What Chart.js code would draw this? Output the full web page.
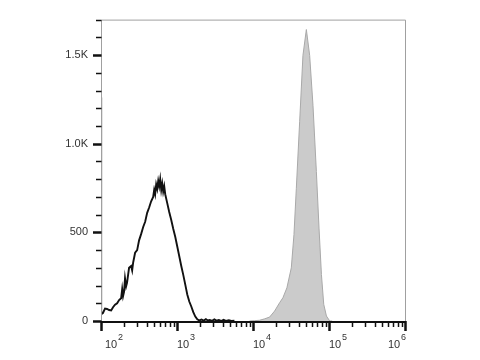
<!DOCTYPE html>
<html>
<head>
<meta charset="utf-8">
<script src="https://cdn.jsdelivr.net/npm/chart.js@4.4.1/dist/chart.umd.min.js"></script>
<style>
  html, body { margin: 0; padding: 0; background: #fff; }
  #wrap { width: 480px; height: 360px; }
</style>
</head>
<body>
<div id="wrap"><canvas id="chart" width="480" height="360"></canvas></div>
<script>
// unstained control (black outline), fluorescence channel values and counts
const ctrlX = [100, 100.5, 106, 113, 120, 128, 136, 144, 153, 163, 173, 184, 190, 195, 201, 207, 214, 220,
  234, 249, 257, 265, 281, 299, 317, 337, 359, 381, 405, 430, 457, 486, 501, 516, 532, 549, 566, 583,
  601, 620, 639, 658, 679, 700, 744, 790, 840, 892, 948, 1008, 1071, 1138, 1209, 1285, 1365, 1451,
  1542, 1638, 1741, 1850, 1966, 2100, 2250, 2400, 2550, 2700, 2900, 3100, 3300, 3550, 3800, 4100,
  4400, 4800, 5200, 5700];
const ctrlY = [1260, 38, 45, 70, 68, 62, 60, 78, 92, 100, 118, 128, 180, 140, 165, 240, 195, 215,
  300, 310, 285, 330, 385, 400, 455, 490, 530, 560, 610, 640, 675, 700, 740, 715, 770, 745, 790, 760,
  800, 740, 775, 730, 760, 715, 665, 615, 570, 520, 475, 420, 365, 310, 260, 205, 150, 110,
  82, 50, 25, 10, 3, 8, 2, 10, 3, 6, 1, 9, 2, 5, 0, 7,
  1, 4, 0, 2];

// stained sample (grey filled)
const stainX = [9000, 10500, 12190, 14190, 16520, 19230, 22390, 24740, 27930, 31920, 34590, 37170,
  41090, 45420, 50350, 55670, 61550, 68210, 73910, 79500, 85290, 92530, 102300, 110000];
const stainY = [0, 2, 4, 12, 22, 56, 103, 131, 187, 300, 487, 749,
  1124, 1498, 1644, 1498, 1217, 843, 524, 262, 94, 28, 0, 0];

const xTicks = [1e2, 1e3, 1e4, 1e5, 1e6];
const xTickExps = ['2', '3', '4', '5', '6'];
const xLabelShift = [13, 9, 9, 9, -8];
const yTicks = [0, 500, 1000, 1500];
const yTickLabels = ['0', '500', '1.0K', '1.5K'];

const FONT = '"Liberation Sans", Arial, sans-serif';

const axesPlugin = {
  id: 'flowAxes',
  afterDatasetsDraw(chart) {
    const { ctx, chartArea: a, scales } = chart;
    const xs = scales.x, ys = scales.y;
    ctx.save();

    // thin grey frame on top / right / left
    ctx.strokeStyle = '#a0a0a0';
    ctx.lineWidth = 1;
    ctx.beginPath();
    ctx.moveTo(a.left + 0.5, a.bottom);
    ctx.lineTo(a.left + 0.5, a.top + 0.5);
    ctx.lineTo(a.right + 0.5, a.top + 0.5);
    ctx.lineTo(a.right + 0.5, a.bottom);
    ctx.stroke();

    // bottom axis
    ctx.strokeStyle = '#111';
    ctx.lineWidth = 2;
    ctx.beginPath();
    ctx.moveTo(a.left, a.bottom + 1);
    ctx.lineTo(a.right + 1, a.bottom + 1);
    ctx.stroke();

    // x ticks: decades and minor 2..9
    for (let d = 2; d <= 6; d++) {
      const px = Math.round(xs.getPixelForValue(Math.pow(10, d))) + 0.5;
      ctx.lineWidth = 2.5;
      ctx.beginPath();
      ctx.moveTo(px, a.bottom);
      ctx.lineTo(px, a.bottom + 10);
      ctx.stroke();
      if (d === 6) break;
      ctx.lineWidth = 1.5;
      for (let m = 2; m <= 9; m++) {
        const mx = Math.round(xs.getPixelForValue(m * Math.pow(10, d))) + 0.5;
        ctx.beginPath();
        ctx.moveTo(mx, a.bottom);
        ctx.lineTo(mx, a.bottom + 6);
        ctx.stroke();
      }
    }

    // y ticks: every 100, longer at labelled values
    for (let v = 0; v <= 1700; v += 100) {
      const py = Math.round(ys.getPixelForValue(v)) + 0.5;
      const major = yTicks.includes(v);
      ctx.lineWidth = major ? 2.5 : 1.5;
      ctx.beginPath();
      ctx.moveTo(a.left - (major ? 8 : 5), py);
      ctx.lineTo(a.left + 0.5, py);
      ctx.stroke();
    }

    // x labels as 10 with a raised exponent
    ctx.fillStyle = '#333';
    ctx.textBaseline = 'alphabetic';
    xTicks.forEach((t, i) => {
      const cx = xs.getPixelForValue(t) + xLabelShift[i];
      ctx.font = '11px ' + FONT;
      const w1 = ctx.measureText('10').width;
      ctx.font = '9px ' + FONT;
      const w2 = ctx.measureText(xTickExps[i]).width;
      const left = cx - (w1 + w2 + 1) / 2;
      ctx.font = '11px ' + FONT;
      ctx.textAlign = 'left';
      ctx.fillText('10', left, a.bottom + 27);
      ctx.font = '9px ' + FONT;
      ctx.fillText(xTickExps[i], left + w1 + 1, a.bottom + 19);
    });

    ctx.restore();
  }
};

new Chart(document.getElementById('chart'), {
  type: 'line',
  data: {
    datasets: [
      {
        label: 'Stained',
        data: stainX.map((x, i) => ({ x, y: stainY[i] })),
        borderColor: '#a9a9a9',
        backgroundColor: '#cbcbcb',
        borderWidth: 1,
        fill: 'origin',
        pointRadius: 0,
        tension: 0,
        order: 2
      },
      {
        label: 'Control',
        data: ctrlX.map((x, i) => ({ x, y: ctrlY[i] })),
        borderColor: '#111',
        borderWidth: 1.9,
        fill: false,
        pointRadius: 0,
        tension: 0,
        order: 1
      }
    ]
  },
  options: {
    responsive: false,
    animation: false,
    layout: { padding: { top: 17, right: 75, left: 0, bottom: 0 } },
    plugins: { legend: { display: false }, tooltip: { enabled: false } },
    scales: {
      x: {
        type: 'logarithmic',
        min: 100,
        max: 1e6,
        grid: { display: false },
        border: { display: false },
        ticks: { display: false },
        afterFit: (s) => { s.height = 39; }
      },
      y: {
        min: 0,
        max: 1700,
        grid: { display: false, drawTicks: false },
        border: { display: false },
        afterBuildTicks: (s) => { s.ticks = yTicks.map(v => ({ value: v })); },
        ticks: {
          padding: 13,
          color: '#333',
          font: { family: FONT, size: 11 },
          callback: (v) => yTickLabels[yTicks.indexOf(v)]
        },
        afterFit: (s) => { s.width = 101; }
      }
    }
  },
  plugins: [axesPlugin]
});
</script>
</body>
</html>
